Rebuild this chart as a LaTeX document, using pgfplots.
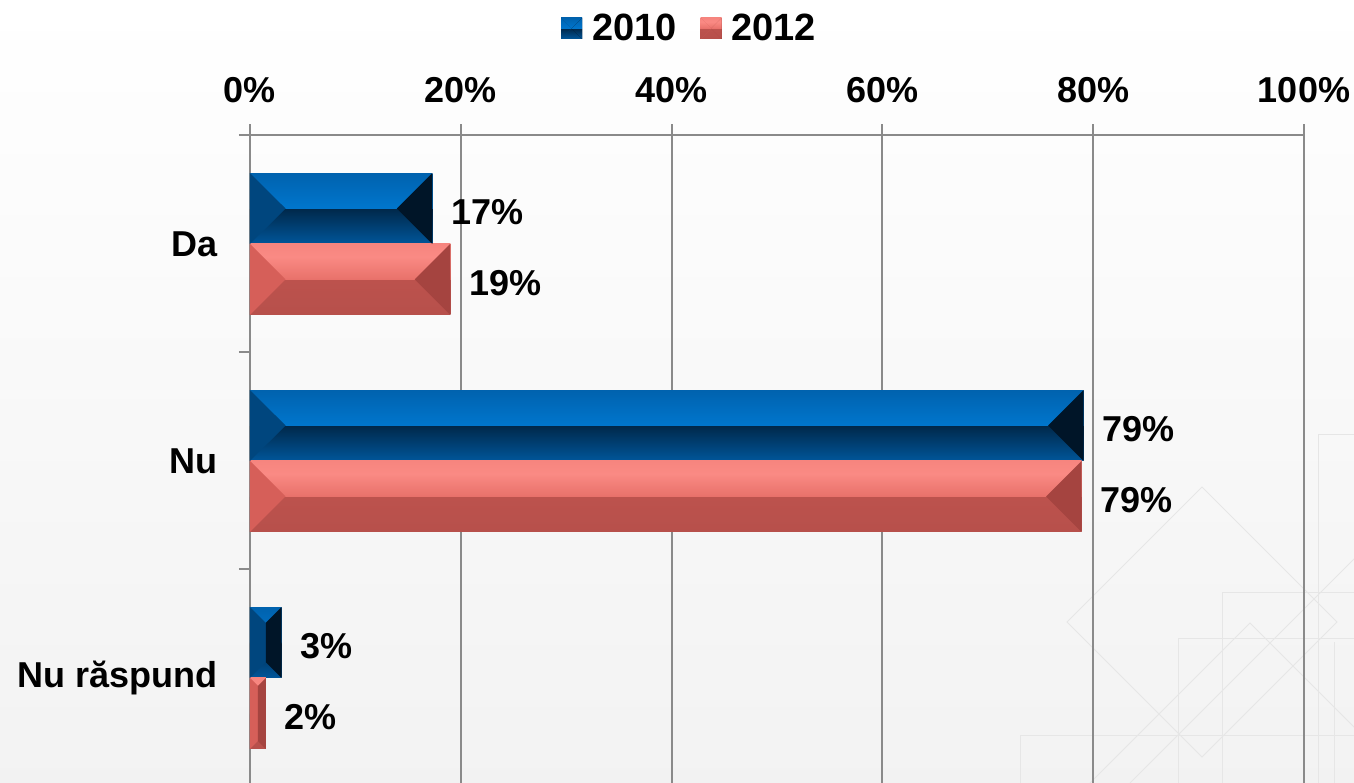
\documentclass[border=0pt]{standalone}
\usepackage{pgfplots}
\pgfplotsset{compat=1.18}
\usepackage{fontspec}
\setmainfont{Liberation Sans}

\definecolor{bA}{HTML}{00569A}
\definecolor{bB}{HTML}{00284A}
\definecolor{bC}{HTML}{0076CD}
\definecolor{bD}{HTML}{0062AE}
\definecolor{bL}{HTML}{00467E}
\definecolor{bR}{HTML}{001528}
\definecolor{rA}{HTML}{B7504B}
\definecolor{rB}{HTML}{BC524D}
\definecolor{rC}{HTML}{E8716A}
\definecolor{rD}{HTML}{FA8A84}
\definecolor{rL}{HTML}{D65F59}
\definecolor{rR}{HTML}{A54440}
\definecolor{gridc}{HTML}{8A8A8A}
\definecolor{decoc}{HTML}{E6E6E6}

\pgfdeclareverticalshading{blueshade}{100bp}{color(0bp)=(bA); color(25bp)=(bA); color(49.9bp)=(bB); color(50.1bp)=(bC); color(75bp)=(bD); color(100bp)=(bD)}
\pgfdeclareverticalshading{redshade}{100bp}{color(0bp)=(rA); color(25bp)=(rA); color(49.9bp)=(rB); color(50.1bp)=(rC); color(66bp)=(rD); color(75bp)=(rD!80!rC); color(100bp)=(rD)}

\newcommand{\bigfont}{\fontsize{18bp}{21bp}\selectfont\bfseries}
\newcommand{\legfont}{\fontsize{19bp}{22bp}\selectfont\bfseries}

\pgfplotsset{
  bluebar/.style={xbar, bar shift=0.1635, draw=none, shade, shading=blueshade,
    point meta=explicit symbolic, nodes near coords,
    nodes near coords style={font=\bigfont, anchor=west, xshift=6bp, yshift=15.75bp, text=black}},
  redbar/.style={xbar, bar shift=-0.1635, draw=none, shade, shading=redshade,
    point meta=explicit symbolic, nodes near coords,
    nodes near coords style={font=\bigfont, anchor=west, xshift=6bp, yshift=-19.75bp, text=black}},
}

\begin{document}
\begin{tikzpicture}
\useasboundingbox (-125bp,0) rectangle (552bp,391.5bp);
\clip (-125bp,0) rectangle (552bp,391.5bp);
\shade[top color=white, bottom color=black!5] (-125bp,0) rectangle (552bp,391.5bp);
% faint decorative background lines
\begin{scope}[draw=decoc, line width=0.5bp]
  \draw (476bp,148bp) -- (408.5bp,80.5bp) -- (476bp,13bp) -- (543.5bp,80.5bp) -- cycle;
  \draw (464bp,0) -- (464bp,72bp) -- (560bp,72bp);
  \draw (486bp,0) -- (486bp,95bp) -- (560bp,95bp);
  \draw (534bp,0) -- (534bp,174bp) -- (560bp,174bp);
  \draw (385bp,0) -- (385bp,23.5bp) -- (560bp,23.5bp);
  \draw (542bp,0) -- (542bp,70.5bp);
  \draw (420bp,0) -- (500bp,80bp) -- (560bp,20bp);
  \draw (440bp,0) -- (560bp,120bp);
\end{scope}
\begin{axis}[
  at={(0,0)}, anchor=south west,
  scale only axis, width=527bp, height=323.75bp,
  xmin=0, xmax=100, ymin=-0.484, ymax=2.5,
  axis x line*=top, axis y line*=left,
  tick align=outside,
  bar width=0.327,
  xtick={0,20,40,60,80,100},
  xticklabels={0\%,20\%,40\%,60\%,80\%,100\%},
  ytick={0,1,2},
  yticklabels={Nu răspund,Nu,Da},
  minor ytick={0.5,1.5,2.5},
  major y tick style={draw=none},
  major tick length=5.5bp, minor tick length=5.5bp,
  tick style={draw=gridc, line width=1bp},
  axis line style={draw=gridc, line width=1bp},
  xmajorgrids, grid style={draw=gridc, line width=1bp},
  ticklabel style={font=\bigfont},
  xticklabel style={yshift=7.5bp},
  yticklabel style={xshift=-7bp},
  legend style={at={(0.418,1)}, anchor=center, yshift=53.5bp, draw=none, fill=none,
    font=\legfont, legend columns=2,
    /tikz/every odd column/.append style={column sep=3bp},
    /tikz/every even column/.append style={column sep=10bp}},
  clip=false,
]
\addplot[bluebar, legend image code/.code={
    \fill[shade, shading=blueshade] (0bp,-5.25bp) rectangle (10.5bp,5.25bp);
    \fill[bL] (0bp,-5.25bp) -- (0bp,5.25bp) -- (5.25bp,0bp) -- cycle;
    \fill[bR] (10.5bp,-5.25bp) -- (10.5bp,5.25bp) -- (5.25bp,0bp) -- cycle;}]
  coordinates {(17.3,2) [17\%]};
\addplot[redbar, legend image code/.code={
    \fill[shade, shading=redshade] (0bp,-5.25bp) rectangle (10.5bp,5.25bp);
    \fill[rL] (0bp,-5.25bp) -- (0bp,5.25bp) -- (5.25bp,0bp) -- cycle;
    \fill[rR] (10.5bp,-5.25bp) -- (10.5bp,5.25bp) -- (5.25bp,0bp) -- cycle;}]
  coordinates {(19,2) [19\%]};
\legend{2010,2012}
\addplot[bluebar, forget plot] coordinates {(79.1,1) [79\%]};
\addplot[bluebar, forget plot] coordinates {(3,0) [3\%]};
\addplot[redbar, forget plot] coordinates {(78.9,1) [79\%]};
\addplot[redbar, forget plot] coordinates {(1.5,0) [2\%]};
% bevel side facets of the bars (2010, blue)
\addplot[forget plot, draw=none, fill=bL] coordinates {(0,2) (0,2.327) (3.37,2.1635)};
\addplot[forget plot, draw=none, fill=bR] coordinates {(17.3,2) (17.3,2.327) (13.93,2.1635)};
\addplot[forget plot, draw=none, fill=bL] coordinates {(0,1) (0,1.327) (3.37,1.1635)};
\addplot[forget plot, draw=none, fill=bR] coordinates {(79.1,1) (79.1,1.327) (75.73,1.1635)};
\addplot[forget plot, draw=none, fill=bL] coordinates {(0,0) (0,0.327) (1.5,0.2542) (1.5,0.0728)};
\addplot[forget plot, draw=none, fill=bR] coordinates {(3,0) (3,0.327) (1.5,0.2542) (1.5,0.0728)};
% bevel side facets of the bars (2012, red)
\addplot[forget plot, draw=none, fill=rL] coordinates {(0,1.673) (0,2) (3.37,1.8365)};
\addplot[forget plot, draw=none, fill=rR] coordinates {(19,1.673) (19,2) (15.63,1.8365)};
\addplot[forget plot, draw=none, fill=rL] coordinates {(0,0.673) (0,1) (3.37,0.8365)};
\addplot[forget plot, draw=none, fill=rR] coordinates {(78.9,0.673) (78.9,1) (75.53,0.8365)};
\addplot[forget plot, draw=none, fill=rL] coordinates {(0,-0.327) (0,0) (0.75,-0.0364) (0.75,-0.2906)};
\addplot[forget plot, draw=none, fill=rR] coordinates {(1.5,-0.327) (1.5,0) (0.75,-0.0364) (0.75,-0.2906)};
\end{axis}
\end{tikzpicture}
\end{document}
